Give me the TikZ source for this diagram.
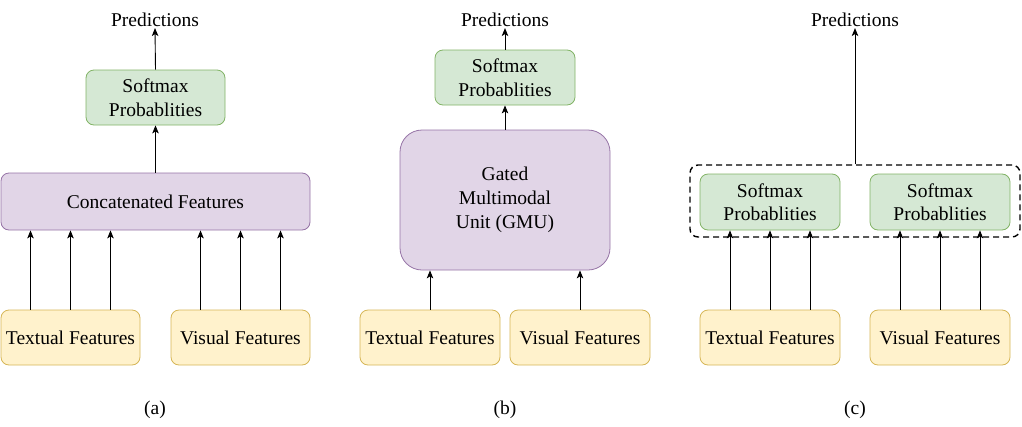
\documentclass[tikz,border=0pt]{standalone}
\usepackage{fontspec}
\setmainfont{Liberation Serif}
\usetikzlibrary{arrows.meta,calc}
\definecolor{gfill}{HTML}{D5E8D4}
\definecolor{gline}{HTML}{82B366}
\definecolor{pfill}{HTML}{E1D5E7}
\definecolor{pline}{HTML}{9673A6}
\definecolor{yfill}{HTML}{FFF2CC}
\definecolor{yline}{HTML}{D6B656}
\tikzset{
  box/.style={draw, rounded corners=8pt, line width=0.8pt, align=center, inner sep=0pt,
    font=\fontsize{19.5}{23.5}\selectfont, minimum width=139pt, minimum height=55pt},
  gbox/.style={box, fill=gfill, draw=gline},
  pbox/.style={box, fill=pfill, draw=pline},
  ybox/.style={box, fill=yfill, draw=yline},
  lbl/.style={font=\fontsize{19.5}{22}\selectfont, inner sep=1pt},
  arr/.style={line width=0.9pt, -{Stealth[length=8pt,width=6.5pt,inset=2pt]}},
}
\begin{document}
\begin{tikzpicture}[x=1pt,y=-1pt]
\useasboundingbox (0,0) rectangle (1022,426);
% ---------- (a) ----------
\node[lbl] (pa) at (155,20) {Predictions};
\node[gbox] (sa) at (155.5,97.5) {Softmax\\Probablities};
\node[pbox, minimum width=309pt, minimum height=57pt] (ca) at (155.5,201.5) {Concatenated Features};
\node[ybox] (ta) at (70.5,337.5) {Textual Features};
\node[ybox] (va) at (240.5,337.5) {Visual Features};
\node[lbl] (la) at (155,410) {(a)};
\draw[arr] (sa.north) -- (pa.south);
\draw[arr] (ca.north) -- (sa.south);
\foreach \d in {-40,0,40}{
  \draw[arr] ([xshift=\d pt]ta.north) -- ([xshift=\d pt]ta.north |- ca.south);
  \draw[arr] ([xshift=\d pt]va.north) -- ([xshift=\d pt]va.north |- ca.south);
}
% ---------- (b) ----------
\node[lbl] (pb) at (505,20) {Predictions};
\node[gbox, minimum width=140pt] (sb) at (505,77.5) {Softmax\\Probablities};
\node[pbox, rounded corners=22pt, minimum width=210pt, minimum height=140pt,
  font=\fontsize{19.5}{24}\selectfont] (gb) at (505,200) {Gated\\Multimodal\\Unit (GMU)};
\node[ybox, minimum width=140pt] (tb) at (430,337.5) {Textual Features};
\node[ybox, minimum width=140pt] (vb) at (580,337.5) {Visual Features};
\node[lbl] (lb) at (505,410) {(b)};
\draw[arr] (sb.north) -- (pb.south);
\draw[arr] (gb.north) -- (sb.south);
\draw[arr] (tb.north) -- (tb.north |- gb.south);
\draw[arr] (vb.north) -- (vb.north |- gb.south);
% ---------- (c) ----------
\node[lbl] (pc) at (855,20) {Predictions};
\node[draw, rounded corners=8pt, line width=1.4pt, dash pattern=on 6pt off 4pt,
  minimum width=330pt, minimum height=72pt, inner sep=0pt] (dc) at (855,201) {};
\node[gbox, minimum width=140pt, minimum height=56pt] (sc1) at (770,202) {Softmax\\Probablities};
\node[gbox, minimum width=140pt, minimum height=56pt] (sc2) at (940,202) {Softmax\\Probablities};
\node[ybox, minimum width=140pt] (tc) at (770,337.5) {Textual Features};
\node[ybox, minimum width=140pt] (vc) at (940,337.5) {Visual Features};
\node[lbl] (lc) at (855,410) {(c)};
\draw[arr] (dc.north) -- (pc.south);
\foreach \d in {-40,0,40}{
  \draw[arr] ([xshift=\d pt]tc.north) -- ([xshift=\d pt]tc.north |- sc1.south);
  \draw[arr] ([xshift=\d pt]vc.north) -- ([xshift=\d pt]vc.north |- sc2.south);
}
\end{tikzpicture}
\end{document}
